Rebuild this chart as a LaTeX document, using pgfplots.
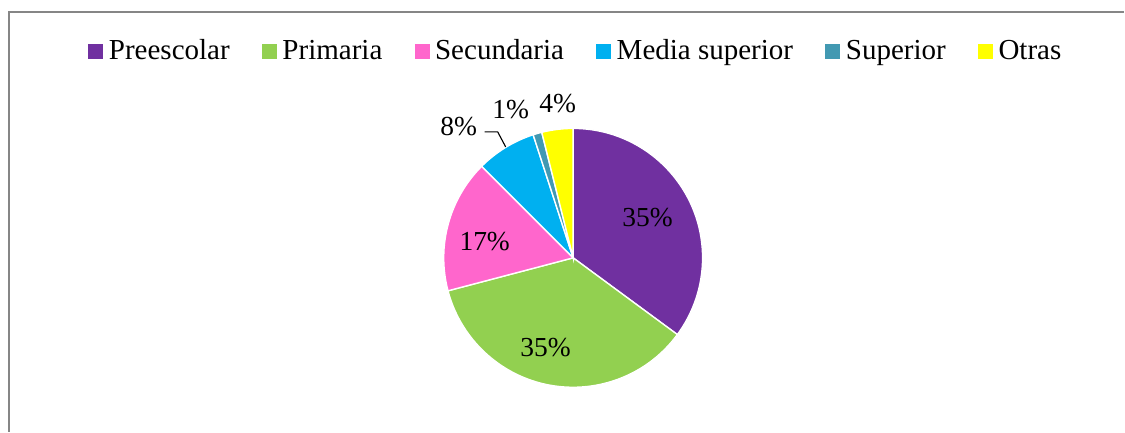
\documentclass[border=0pt]{standalone}
\usepackage{fontspec}
\setmainfont{Liberation Serif}
\usepackage{pgfplots}
\pgfplotsset{compat=1.18}
\definecolor{cPre}{HTML}{7030A0}
\definecolor{cPri}{HTML}{92D050}
\definecolor{cSec}{HTML}{FF66CC}
\definecolor{cMed}{HTML}{00B0F0}
\definecolor{cSup}{HTML}{4299B2}
\definecolor{cOtr}{HTML}{FFFF00}
\definecolor{frm}{HTML}{868686}
\begin{document}
\begin{tikzpicture}
\begin{axis}[
  width=405pt, height=155.52pt, scale only axis,
  xmin=0, xmax=1125, ymin=0, ymax=432,
  hide axis, clip=false,
  legend columns=6,
  legend style={draw=none, fill=none, at={(0.5138,0.8796)}, anchor=center,
    font=\fontsize{10.45}{12}\selectfont, inner sep=0pt,
    /tikz/every even column/.append style={column sep=9.6pt},
    /tikz/every odd column/.append style={column sep=0pt}},
  legend image code/.code={\fill[#1] (0pt,-2.7pt) rectangle (5.4pt,2.7pt);},
]
\addlegendimage{fill=cPre, draw=none}
\addlegendentry{Preescolar}
\addlegendimage{fill=cPri, draw=none}
\addlegendentry{Primaria}
\addlegendimage{fill=cSec, draw=none}
\addlegendentry{Secundaria}
\addlegendimage{fill=cMed, draw=none}
\addlegendentry{Media superior}
\addlegendimage{fill=cSup, draw=none}
\addlegendentry{Superior}
\addlegendimage{fill=cOtr, draw=none}
\addlegendentry{Otras}
% full picture extent
\path (axis cs:0,0) (axis cs:1125,432);
% frame
\draw[frm, line width=0.5pt] (axis cs:9,0) -- (axis cs:9,420) -- (axis cs:1125,420);
% pie: values (percent) 35.1, 35.8, 16.6, 7.5, 1.1, 3.9
\fill[cPre, draw=white, line width=0.5pt] (axis cs:573.5,174) -- ++(90:46.62pt)
  arc[start angle=90, delta angle={-3.6*35.1}, radius=46.62pt] -- cycle;
\fill[cPri, draw=white, line width=0.5pt] (axis cs:573.5,174) -- ++({90-3.6*35.1}:46.62pt)
  arc[start angle={90-3.6*35.1}, delta angle={-3.6*35.8}, radius=46.62pt] -- cycle;
\fill[cSec, draw=white, line width=0.5pt] (axis cs:573.5,174) -- ++({90-3.6*(35.1+35.8)}:46.62pt)
  arc[start angle={90-3.6*(35.1+35.8)}, delta angle={-3.6*16.6}, radius=46.62pt] -- cycle;
\fill[cMed, draw=white, line width=0.5pt] (axis cs:573.5,174) -- ++({90-3.6*(35.1+35.8+16.6)}:46.62pt)
  arc[start angle={90-3.6*(35.1+35.8+16.6)}, delta angle={-3.6*7.5}, radius=46.62pt] -- cycle;
\fill[cSup, draw=white, line width=0.5pt] (axis cs:573.5,174) -- ++({90-3.6*(35.1+35.8+16.6+7.5)}:46.62pt)
  arc[start angle={90-3.6*(35.1+35.8+16.6+7.5)}, delta angle={-3.6*1.1}, radius=46.62pt] -- cycle;
\fill[cOtr, draw=white, line width=0.5pt] (axis cs:573.5,174) -- ++({90-3.6*(35.1+35.8+16.6+7.5+1.1)}:46.62pt)
  arc[start angle={90-3.6*(35.1+35.8+16.6+7.5+1.1)}, delta angle={-3.6*3.9}, radius=46.62pt] -- cycle;
% labels
\begin{scope}[every node/.style={font=\fontsize{9.9}{12}\selectfont, inner sep=0pt}]
\node at (axis cs:648,214) {35\%};
\node at (axis cs:546,84) {35\%};
\node at (axis cs:485,190) {17\%};
\node at (axis cs:459,305) {8\%};
\node at (axis cs:511,322) {1\%};
\node at (axis cs:558,328) {4\%};
\end{scope}
\draw[black, line width=0.4pt] (axis cs:485,300) -- (axis cs:498,300) -- (axis cs:506,285);
\end{axis}
\end{tikzpicture}
\end{document}
